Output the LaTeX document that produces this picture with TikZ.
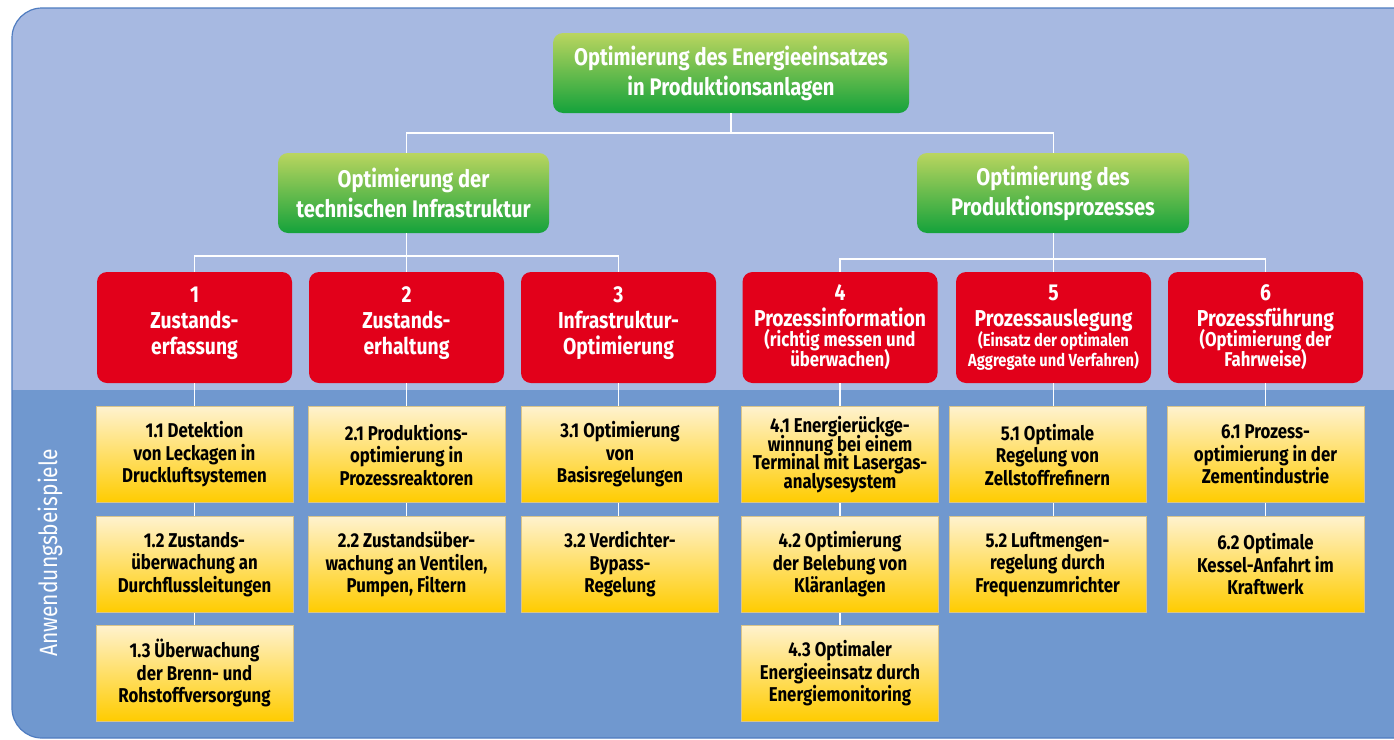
\documentclass[tikz,border=0pt]{standalone}
\usepackage{fontspec}
\setmainfont{Fira Sans}[FakeStretch=0.84]
\usetikzlibrary{positioning}

\definecolor{skyblue}{HTML}{A7B9E1}
\definecolor{deepblue}{HTML}{7098CF}
\definecolor{rimblue}{HTML}{4F7CC0}
\definecolor{leafhigh}{HTML}{BAD55F}
\definecolor{leaflow}{HTML}{14A23B}
\definecolor{fieldred}{HTML}{E2001A}
\definecolor{creamtop}{HTML}{FFF2CE}
\definecolor{creammid}{HTML}{FFE592}
\definecolor{goldlow}{HTML}{FFCC00}
\definecolor{goldedge}{HTML}{D9C48A}

\newcommand\goalfont{\fontsize{24}{30}\selectfont\bfseries}
\newcommand\fieldfont{\fontsize{23}{26}\selectfont\bfseries}
\newcommand\notefont{\fontsize{20}{20}\selectfont\bfseries}
\newcommand\smallnotefont{\fontsize{17.5}{18}\selectfont\bfseries}
\newcommand\casefont{\fontsize{20}{22.5}\selectfont\bfseries}

\begin{document}
\begin{tikzpicture}[x=1pt,y=-1pt,
  goal/.style={rounded corners=10pt,top color=leafhigh,bottom color=leaflow,
    text=white,font=\goalfont,align=center,minimum height=80pt,inner sep=0pt},
  field/.style={rounded corners=10pt,fill=fieldred,text=white,font=\fieldfont,
    align=center,minimum width=195pt,minimum height=111pt,inner sep=0pt},
  case/.style={top color=creamtop,middle color=creammid,bottom color=goldlow,
    draw=goldedge,line width=0.8pt,text=black,font=\casefont,align=center,
    minimum width=197pt,minimum height=96pt,inner sep=0pt},
  link/.style={draw=white,line width=1.6pt}]

  \useasboundingbox (0,0) rectangle (1394,739);

  % background panel, lighter upper part and darker band for the examples
  \begin{scope}
    \clip[rounded corners=30pt] (12,8) rectangle (1424,738);
    \fill[skyblue] (0,0) rectangle (1394,390);
    \fill[deepblue] (0,390) rectangle (1394,739);
  \end{scope}
  \draw[rimblue,line width=1.2pt,rounded corners=30pt] (12,8) rectangle (1424,738);

  \node[rotate=90,text=white,font=\fontsize{25}{28}\selectfont] (examples) at (50,553) {Anwendungsbeispiele};

  % goals
  \node[goal,minimum width=356pt] (energy) at (731,73) {Optimierung des Energieeinsatzes\\in Produktionsanlagen};
  \node[goal,minimum width=271pt] (infra) at (413.5,193) {Optimierung der\\technischen Infrastruktur};
  \node[goal,minimum width=272pt] (process) at (1053,193) {Optimierung des\\Produktionsprozesses};

  % fields of action
  \node[field] (field1) at (194.5,327.5) {1\\Zustands-\\erfassung\\[-12pt]\mbox{}};
  \node[field] (field2) at (406.5,327.5) {2\\Zustands-\\erhaltung\\[-12pt]\mbox{}};
  \node[field] (field3) at (618.5,327.5) {3\\Infrastruktur-\\Optimierung\\[-12pt]\mbox{}};
  \node[field] (field4) at (840,327.5) {4\\Prozessinformation\\[-6pt]{\notefont (richtig messen und}\\[-6pt]{\notefont überwachen)}};
  \node[field] (field5) at (1053.5,327.5) {5\\Prozessauslegung\\[-6pt]{\smallnotefont (Einsatz der optimalen}\\[-6pt]{\smallnotefont Aggregate und Verfahren)}};
  \node[field] (field6) at (1265.5,327.5) {6\\Prozessführung\\[-6pt]{\notefont (Optimierung der}\\[-6pt]{\notefont Fahrweise)}};

  % application examples
  \node[case,below=23pt of field1] (case11) {1.1 Detektion\\von Leckagen in\\Druckluftsystemen};
  \node[case,below=13pt of case11] (case12) {1.2 Zustands-\\überwachung an\\Durchflussleitungen};
  \node[case,below=12pt of case12] (case13) {1.3 Überwachung\\der Brenn- und\\Rohstoffversorgung};
  \node[case,below=23pt of field2] (case21) {2.1 Produktions-\\optimierung in\\Prozessreaktoren};
  \node[case,below=13pt of case21] (case22) {2.2 Zustandsüber-\\wachung an Ventilen,\\Pumpen, Filtern};
  \node[case,below=23pt of field3,xshift=1.5pt] (case31) {3.1 Optimierung\\von\\Basisregelungen};
  \node[case,below=13pt of case31] (case32) {3.2 Verdichter-\\Bypass-\\Regelung};
  \node[case,below=23pt of field4] (case41) {4.1 Energierückge-\\[-4pt]winnung bei einem\\[-4pt]Terminal mit Lasergas-\\[-4pt]analysesystem};
  \node[case,below=13pt of case41] (case42) {4.2 Optimierung\\der Belebung von\\Kläranlagen};
  \node[case,below=12pt of case42] (case43) {4.3 Optimaler\\Energieeinsatz durch\\Energiemonitoring};
  \node[case,below=23pt of field5,xshift=-6pt] (case51) {5.1 Optimale\\Regelung von\\Zellstoffrefinern};
  \node[case,below=13pt of case51] (case52) {5.2 Luftmengen-\\regelung durch\\Frequenzumrichter};
  \node[case,below=23pt of field6] (case61) {6.1 Prozess-\\optimierung in der\\Zementindustrie};
  \node[case,below=13pt of case61] (case62) {6.2 Optimale\\Kessel-Anfahrt im\\Kraftwerk};

  % tree connectors
  \draw[link] (energy.south) -- ++(0,20) -| (infra.north -| field2.north);
  \draw[link] (energy.south) -- ++(0,20) -| (process.north -| field5.north);
  \draw[link] (infra.south -| field2.north) -- (field2.north);
  \draw[link] (field1.north) -- ++(0,-16) -| (field3.north);
  \draw[link] (process.south -| field5.north) -- (field5.north);
  \draw[link] (field4.north) -- ++(0,-13) -| (field6.north);

  \foreach \c/\n in {1/3,2/2,3/2,4/3,5/2,6/2} {
    \draw[link] (field\c.south) -- (field\c.south |- case\c1.north);
    \foreach \r in {2,...,\n} {
      \pgfmathtruncatemacro\p{\r-1}
      \draw[link] (case\c\p.south -| field\c.south) -- (case\c\r.north -| field\c.south);
    }
  }
\end{tikzpicture}
\end{document}
